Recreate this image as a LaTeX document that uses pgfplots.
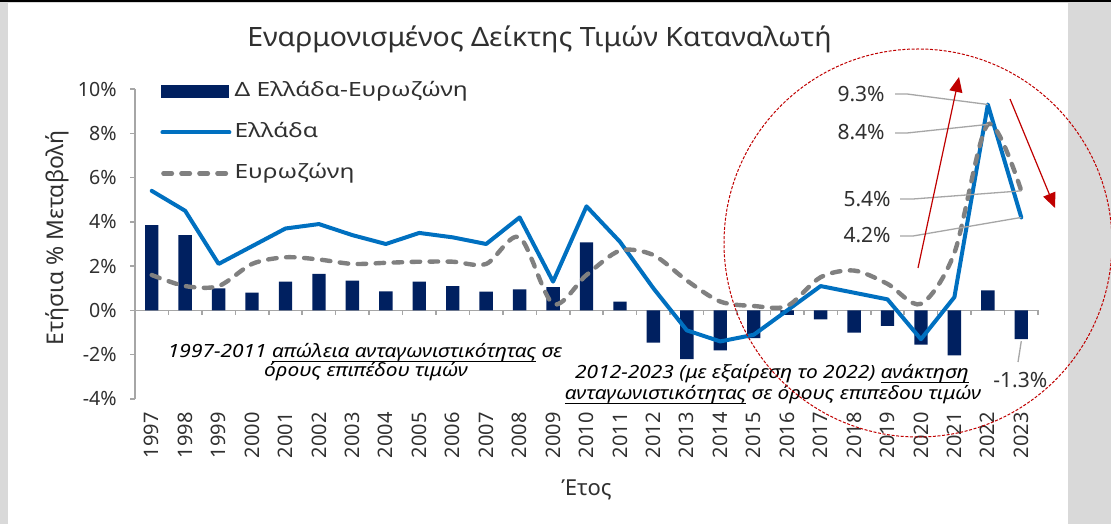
\documentclass[border=0pt]{standalone}
\usepackage{fontspec}
\setmainfont{Noto Sans}
\newfontfamily\legfont{Noto Sans}[FakeStretch=1.25]
\newfontfamily\annfont{Noto Sans}[FakeStretch=1.15]
\newfontfamily\titfont{Noto Sans}[FakeStretch=1.07]
\usepackage{pgfplots}
\usepackage{pgfplotstable}
\pgfplotsset{compat=1.18}
\usetikzlibrary{arrows.meta}
\definecolor{navy}{HTML}{002060}
\definecolor{blueline}{HTML}{0070C0}
\definecolor{grayline}{HTML}{808080}
\definecolor{axgray}{HTML}{A6A6A6}
\definecolor{txt}{HTML}{303030}
\definecolor{dred}{HTML}{C00000}
\definecolor{bggray}{HTML}{D9D9D9}
\newcommand\fTitle{\titfont\fontsize{13.3}{16}\selectfont}
\newcommand\fLeg{\legfont\fontsize{9.8}{12}\selectfont}
\newcommand\fTick{\fontsize{9.8}{12}\selectfont}
\newcommand\fYear{\fontsize{10}{12}\selectfont}
\newcommand\fLab{\fontsize{11}{13}\selectfont}
\newcommand\fYLab{\fontsize{11.5}{13}\selectfont}
\newcommand\fVal{\fontsize{10.5}{12}\selectfont}
\newcommand\fAnn{\annfont\fontsize{9.1}{11}\selectfont}
\newcommand\ul[1]{\setbox0\hbox{#1}\rlap{\rule[-2pt]{\wd0}{0.6pt}}\box0\relax}
\pgfplotstableread{
i year diff gr ez
0 1997 3.85 5.4 1.6
1 1998 3.4 4.5 1.1
2 1999 1.0 2.1 1.1
3 2000 0.8 2.9 2.1
4 2001 1.3 3.7 2.4
5 2002 1.65 3.9 2.3
6 2003 1.35 3.4 2.1
7 2004 0.86 3.0 2.15
8 2005 1.3 3.5 2.2
9 2006 1.1 3.3 2.2
10 2007 0.85 3.0 2.1
11 2008 0.95 4.2 3.3
12 2009 1.05 1.3 0.3
13 2010 3.07 4.7 1.6
14 2011 0.4 3.1 2.7
15 2012 -1.45 1.0 2.5
16 2013 -2.2 -0.9 1.35
17 2014 -1.8 -1.4 0.4
18 2015 -1.25 -1.1 0.2
19 2016 -0.2 0.0 0.2
20 2017 -0.4 1.1 1.5
21 2018 -1.0 0.8 1.8
22 2019 -0.7 0.5 1.2
23 2020 -1.55 -1.3 0.3
24 2021 -2.03 0.6 2.6
25 2022 0.9 9.3 8.4
26 2023 -1.3 4.2 5.4
}\data
\begin{document}
\begin{tikzpicture}
\path[use as bounding box] (0pt,0pt) rectangle (555.5pt,262pt);
\fill[bggray] (0pt,0pt) rectangle (555.5pt,262pt);
\fill[white] (4pt,0pt) rectangle (534pt,260.5pt);
\fill[black] (0pt,260.75pt) rectangle (555.5pt,262pt);
\begin{axis}[
  at={(67.5pt,62.5pt)}, anchor=south west,
  scale only axis, width=451.5pt, height=155pt,
  xmin=-0.5, xmax=26.5, ymin=-4, ymax=10,
  clip=false,
  axis lines*=left,
  x axis line style={draw=none},
  y axis line style={draw=axgray, line width=0.75pt},
  xtick={0,...,26},
  xticklabels={1997,1998,1999,2000,2001,2002,2003,2004,2005,2006,2007,2008,2009,2010,2011,2012,2013,2014,2015,2016,2017,2018,2019,2020,2021,2022,2023},
  x tick style={draw=none},
  xticklabel style={rotate=90, anchor=east, font=\fYear, text=txt, inner sep=0pt},
  xticklabel shift=4pt,
  ytick={-4,-2,...,10},
  yticklabel={\pgfmathprintnumber{\tick}\%},
  /pgf/number format/assume math mode=true,
  y tick style={draw=axgray, line width=0.75pt},
  tick align=outside, major tick length=2.5pt,
  yticklabel style={font=\fTick, text=txt, inner sep=0pt, xshift=-6.5pt},
  every axis title shift=0pt,
  title={Εναρμονισμένος Δείκτης Τιμών Καταναλωτή},
  title style={at={(axis description cs:0.448,1.1355)}, anchor=base, font=\fTitle, text=txt},
  xlabel={Έτος},
  xlabel style={at={(axis description cs:0.5,-0.3097)}, anchor=base, font=\fLab, text=txt},
  ylabel={Ετήσια \% Μεταβολή},
  ylabel style={at={(axis description cs:-0.0863,0.52)}, anchor=center, font=\fYLab, text=txt},
  legend style={at={(axis description cs:0.0277,1.0226)}, anchor=north west, draw=none, fill=none,
    inner sep=0pt, row sep=11.5pt, font=\fLeg, text=txt,
    nodes={inner sep=0pt, text height=7pt, text depth=2pt},
    /tikz/every odd column/.style={column sep=1.5pt}},
  legend cell align=left,
]
\draw[axgray, line width=0.75pt] (axis cs:-0.5,0) -- (axis cs:26.5,0);
\pgfplotsinvokeforeach{0,...,26}{\draw[axgray, line width=0.75pt] (axis cs:#1.5,0) -- ++(0pt,-2.5pt);}
\addplot[ybar, bar width=0.4, fill=navy, draw=none,
  legend image code/.code={\fill[navy] (0pt,-3.1pt) rectangle (34pt,3.1pt);}]
  table[x=i, y=diff]{\data};
\addplot[blueline, line width=2pt, line join=round, line cap=round,
  legend image code/.code={\draw[blueline, line width=2pt, line cap=round] (0.5pt,0pt) -- (34pt,0pt);}]
  table[x=i, y=gr]{\data};
\addplot[grayline, line width=2.2pt, smooth, line cap=round, dash pattern=on 4.25pt off 4.75pt,
  legend image code/.code={\draw[grayline, line width=2.2pt, line cap=round, dash pattern=on 4.25pt off 4.75pt] (1pt,0pt) -- (34pt,0pt);}]
  table[x=i, y=ez]{\data};
\legend{Δ Ελλάδα-Ευρωζώνη, Ελλάδα, Ευρωζώνη}
\coordinate (g22) at (axis cs:25,9.3);
\coordinate (e22) at (axis cs:25,8.4);
\coordinate (e23) at (axis cs:26,5.4);
\coordinate (g23) at (axis cs:26,4.2);
\coordinate (d23) at (axis cs:26,-1.3);
\end{axis}
% value labels and leaders
\begin{scope}[axgray, line width=0.65pt]
\draw (447.5pt,215pt) -- (453.5pt,215pt) -- (g22);
\draw (447.5pt,195.5pt) -- (453.5pt,195.5pt) -- (e22);
\draw (450pt,162.5pt) -- (456.5pt,162.5pt) -- (e23);
\draw (450pt,144pt) -- (456.5pt,144pt) -- (g23);
\draw ([yshift=-1pt]d23) -- (509pt,81pt);
\end{scope}
\begin{scope}[font=\fVal, text=txt, inner sep=0pt]
\node[anchor=base east] at (442.5pt,211pt) {9.3\%};
\node[anchor=base east] at (442.5pt,192pt) {8.4\%};
\node[anchor=base east] at (445.5pt,158.75pt) {5.4\%};
\node[anchor=base east] at (445.5pt,140.5pt) {4.2\%};
\node[anchor=base west] at (496.5pt,68pt) {-1.3\%};
\end{scope}
% annotations
\begin{scope}[font=\fAnn\itshape, text=black, inner sep=0pt]
\node[anchor=base] at (182.5pt,83pt) {1997-2011 \ul{απώλεια ανταγωνιστικότητας} σε};
\node[anchor=base] at (183pt,73.5pt) {όρους επιπέδου τιμών};
\node[anchor=base] at (386pt,72.5pt) {2012-2023 (με εξαίρεση το 2022) \ul{ανάκτηση}};
\node[anchor=base] at (386.5pt,62pt) {\ul{ανταγωνιστικότητας} σε όρους επιπεδου τιμών};
\end{scope}
% red circle and arrows
\draw[dred, line width=0.5pt, dash pattern=on 1.5pt off 0.8pt] (459pt,140.5pt) circle (97pt);
\draw[dred, line width=0.6pt, -{Triangle[length=7.5pt,width=6.5pt]}] (459pt,128pt) -- (479.5pt,223.5pt);
\draw[dred, line width=0.6pt, -{Triangle[length=7.5pt,width=6.5pt]}] (505pt,212.5pt) -- (527.5pt,158pt);
\end{tikzpicture}
\end{document}
